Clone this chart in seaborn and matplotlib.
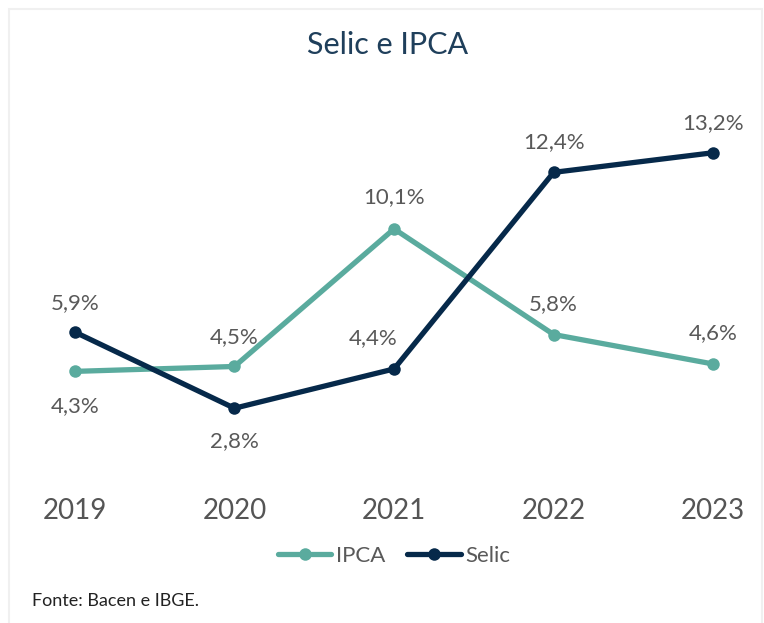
import pandas as pd
import matplotlib.pyplot as plt
import seaborn as sns
from matplotlib.patches import Rectangle

ANOS = ["2019", "2020", "2021", "2022", "2023"]
IPCA = [4.3, 4.5, 10.1, 5.8, 4.6]
SELIC = [5.9, 2.8, 4.4, 12.4, 13.2]

COR_IPCA = "#5AAB9E"
COR_SELIC = "#06294A"
CINZA = "#595959"

# posição dos rótulos (offset em pontos) para cada série
OFF_IPCA = [(0, -25), (0, 21), (0, 23), (0, 22), (0, 22)]
OFF_SELIC = [(0, 21), (0, -24), (-15, 22), (0, 22), (0, 21)]

df = pd.DataFrame({
    "ano": ANOS * 2,
    "valor": IPCA + SELIC,
    "serie": ["IPCA"] * len(ANOS) + ["Selic"] * len(ANOS),
})
df["x"] = df.groupby("serie").cumcount()

sns.set_theme(style="white")
plt.rcParams["font.family"] = ["Lato", "DejaVu Sans"]

fig = plt.figure(figsize=(7.64, 6.23), dpi=100)
ax = fig.add_axes([0.0353, 0.2343, 0.961, 0.631])

sns.lineplot(data=df, x="x", y="valor", hue="serie",
             palette={"IPCA": COR_IPCA, "Selic": COR_SELIC},
             marker="o", markersize=9, markeredgewidth=0,
             linewidth=3.8, ax=ax)

for serie, offs in [("IPCA", OFF_IPCA), ("Selic", OFF_SELIC)]:
    sub = df[df["serie"] == serie]
    for (_, r), off in zip(sub.iterrows(), offs):
        ax.annotate(f"{r['valor']:.1f}%".replace(".", ","),
                    (r["x"], r["valor"]), xytext=off, textcoords="offset points",
                    ha="center", va="center", fontsize=16, color=CINZA)

ax.set_xlim(-0.3, 4.3)
ax.set_ylim(0, 16)
ax.set_xticks(range(len(ANOS)))
ax.set_xticklabels(ANOS, fontsize=20, color="#555555")
ax.tick_params(axis="x", length=0, pad=15)
ax.set_yticks([])
ax.set_xlabel("")
ax.set_ylabel("")
for s in ax.spines.values():
    s.set_visible(False)

leg = ax.legend(loc="center", bbox_to_anchor=(0.5, -0.2), ncol=2, frameon=False,
                fontsize=16, handlelength=2.4, handletextpad=0.2, columnspacing=1.0)
for t in leg.get_texts():
    t.set_color(CINZA)

fig.text(0.507, 0.928, "Selic e IPCA", ha="center", va="center",
         fontsize=22, color="#1F3F5B")
fig.text(0.042, 0.035, "Fonte: Bacen e IBGE.", ha="left", va="center",
         fontsize=13, color="#222222")

fig.patches.append(Rectangle((0.012, -0.02), 0.985, 1.005, transform=fig.transFigure,
                             fill=False, edgecolor="#F0F0F0", linewidth=1.5))

fig.savefig("out.png", dpi=100)
